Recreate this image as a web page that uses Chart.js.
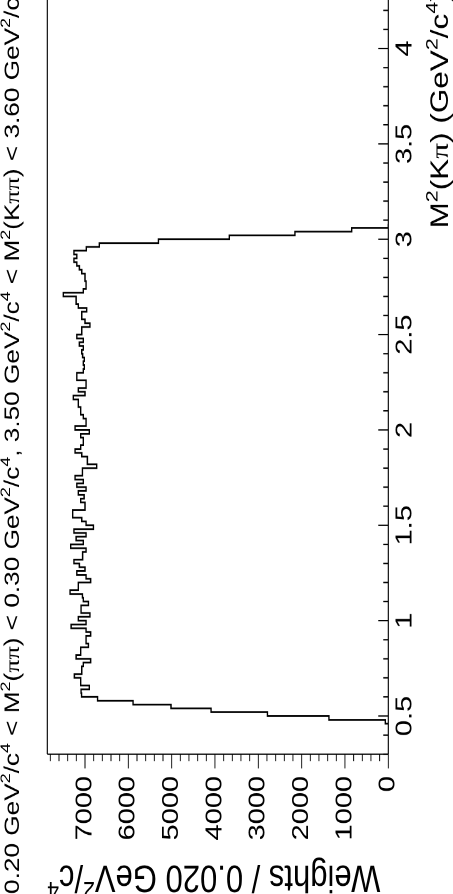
<!DOCTYPE html>
<html><head><meta charset="utf-8">
<script src="https://cdn.jsdelivr.net/npm/chart.js@4.4.1/dist/chart.umd.min.js"></script>
<style>
html,body{margin:0;padding:0;width:453px;height:894px;overflow:hidden;background:#fff;}
#wrap{position:absolute;left:0;top:0;width:740px;height:453px;transform-origin:0 0;transform:translate(0px,894px) rotate(-90deg) scaleX(1.26);}
canvas{display:block}
</style></head><body>
<div id="wrap"><canvas id="c" width="740" height="453"></canvas></div>
<script>
// Histogram: Weights per 0.020 GeV^2/c^4 bin of M^2(Kpi)
const binLow = 0.48;
const binWidth = 0.02;
const counts = [
  70,1370,2790,4090,5015,5890,6710,7080,7090,6900,
  7100,7100,7245,7075,7075,7040,6870,7205,7100,7100,
  6920,6975,6975,6870,6975,7320,6975,7155,6885,7090,
  7090,6920,7040,7060,7345,7155,7155,6870,6975,7190,
  7000,7130,7255,7055,7055,6975,7330,7040,7205,6975,
  7255,6805,6975,7075,7285,7285,7000,7000,7100,7020,
  7155,6975,7190,7040,7230,7060,7060,6730,6945,6945,
  7075,7230,7100,7040,7040,7100,6900,7230,6975,6975,
  7040,7100,7100,7155,7155,7270,7000,7155,6975,6975,
  7190,7190,7040,7015,7040,7015,7055,7075,7040,7130,
  7040,7190,7075,7075,6885,7000,7075,7075,6960,7155,
  7205,7205,7500,7040,6975,6975,7000,7000,7075,7130,
  7190,7255,7190,7255,6970,6670,5305,3670,2155,845
];
const xTickValues = [0.5,1,1.5,2,2.5,3,3.5,4];
const yTickValues = [0,1000,2000,3000,4000,5000,6000,7000];
const xRange = [0.3, 4.3];
const yRange = [0, 7870];

const SANS = "'Liberation Sans', Arial, Helvetica, sans-serif";
const SERIF = "'Liberation Serif', 'Times New Roman', serif";

// bin outline points (low edge of each bin, closing edge at the end)
const points = [{x: +(binLow - binWidth).toFixed(2), y: 0}];
counts.forEach((c, i) => points.push({x: +(binLow + i * binWidth).toFixed(2), y: c}));
points.push({x: +(binLow + counts.length * binWidth).toFixed(2), y: 0});

const titleParts = [
  ['0.20 GeV'],['2','s'],['/c'],['4','s'],[' < M'],['2','s'],['('],['\u03c0\u03c0','g'],[') < 0.30 GeV'],['2','s'],['/c'],['4','s'],
  [', 3.50 GeV'],['2','s'],['/c'],['4','s'],[' < M'],['2','s'],['(K'],['\u03c0\u03c0','g'],[') < 3.60 GeV'],['2','s'],['/c'],['4','s']
];
const xTitleParts = [['M'],['2','s'],['(K'],['\u03c0','g'],[') (GeV'],['2','s'],['/c'],['4','s'],[')']];
const yTitleParts = [['Weights / 0.020 GeV'],['2','s'],['/c'],['4','s']];

function partFont(p, size){
  const s = p[1] === 's' ? size * 0.68 : size;
  return s.toFixed(2) + 'px ' + (p[1] === 'g' ? SERIF : SANS);
}
function drawRich(ctx, parts, x, y, size, align, rot){
  ctx.save();
  let total = 0;
  parts.forEach(p => { ctx.font = partFont(p, size); total += ctx.measureText(p[0]).width; });
  ctx.translate(x, y);
  if (rot) ctx.rotate(-Math.PI/2);
  let cur = align === 'right' ? -total : (align === 'center' ? -total/2 : 0);
  ctx.fillStyle = '#000';
  ctx.textBaseline = 'alphabetic';
  ctx.textAlign = 'left';
  parts.forEach(p => {
    ctx.font = partFont(p, size);
    ctx.fillText(p[0], cur, p[1] === 's' ? -size * 0.42 : 0);
    cur += ctx.measureText(p[0]).width;
  });
  ctx.restore();
}

const rootStyle = {
  id: 'rootStyle',
  afterDraw(chart){
    const ctx = chart.ctx, a = chart.chartArea;
    const xs = chart.scales.x, ys = chart.scales.y;
    ctx.save();
    ctx.strokeStyle = '#000';
    // frame
    ctx.lineWidth = 1.1;
    ctx.beginPath();
    ctx.moveTo(a.right + 40, a.top); ctx.lineTo(a.left, a.top);
    ctx.moveTo(a.left, a.bottom); ctx.lineTo(a.right + 40, a.bottom);
    ctx.stroke();
    ctx.lineWidth = 0.9;
    ctx.beginPath();
    ctx.moveTo(a.left, a.top); ctx.lineTo(a.left, a.bottom);
    ctx.stroke();
    // y axis ticks (outside)
    ctx.lineWidth = 0.9;
    ctx.beginPath();
    for (let v = 0; v <= yRange[1]; v += 200) {
      const py = ys.getPixelForValue(v);
      const len = (v % 1000 === 0) ? 11.3 : 5.6;
      ctx.moveTo(a.left, py); ctx.lineTo(a.left - len, py);
    }
    ctx.stroke();
    // x axis ticks (inside)
    ctx.lineWidth = 1.1;
    ctx.beginPath();
    for (let k = 3; k <= 43; k++) {
      const v = k / 10;
      const px = xs.getPixelForValue(v);
      const len = (k % 5 === 0) ? 10 : 5;
      ctx.moveTo(px, a.bottom); ctx.lineTo(px, a.bottom - len);
    }
    ctx.stroke();
    ctx.restore();
    // texts
    drawRich(ctx, titleParts, 0, 18.8, 20.8, 'left', false);
    drawRich(ctx, xTitleParts, a.right, 448, 25, 'right', false);
    drawRich(ctx, yTitleParts, 22.5, a.top, 31, 'right', true);
  }
};

new Chart(document.getElementById('c'), {
  type: 'line',
  data: { datasets: [{
    data: points,
    stepped: 'after',
    borderColor: '#000',
    borderWidth: 1.4,
    pointRadius: 0,
    fill: false
  }]},
  options: {
    responsive: false,
    animation: false,
    devicePixelRatio: 2,
    layout: { padding: { left: 0, top: 47.3, right: 23.6, bottom: 0 } },
    plugins: { legend: { display: false }, tooltip: { enabled: false } },
    scales: {
      x: {
        type: 'linear', min: xRange[0], max: xRange[1],
        afterBuildTicks: s => { s.ticks = xTickValues.map(v => ({ value: v })); },
        afterFit: s => { s.height = 64.7; },
        grid: { display: false, drawTicks: false },
        border: { display: false },
        ticks: { autoSkip: false, maxRotation: 0, minRotation: 0, padding: 3, color: '#000',
          font: { family: SANS, size: 23 }, callback: v => String(v) }
      },
      y: {
        type: 'linear', min: yRange[0], max: yRange[1],
        afterBuildTicks: s => { s.ticks = yTickValues.map(v => ({ value: v })); },
        afterFit: s => { s.width = 111; },
        grid: { display: false, drawTicks: false },
        border: { display: false },
        ticks: { padding: 17.3, color: '#000', font: { family: SANS, size: 23 }, callback: v => String(v) }
      }
    }
  },
  plugins: [rootStyle]
});
</script>
</body></html>
